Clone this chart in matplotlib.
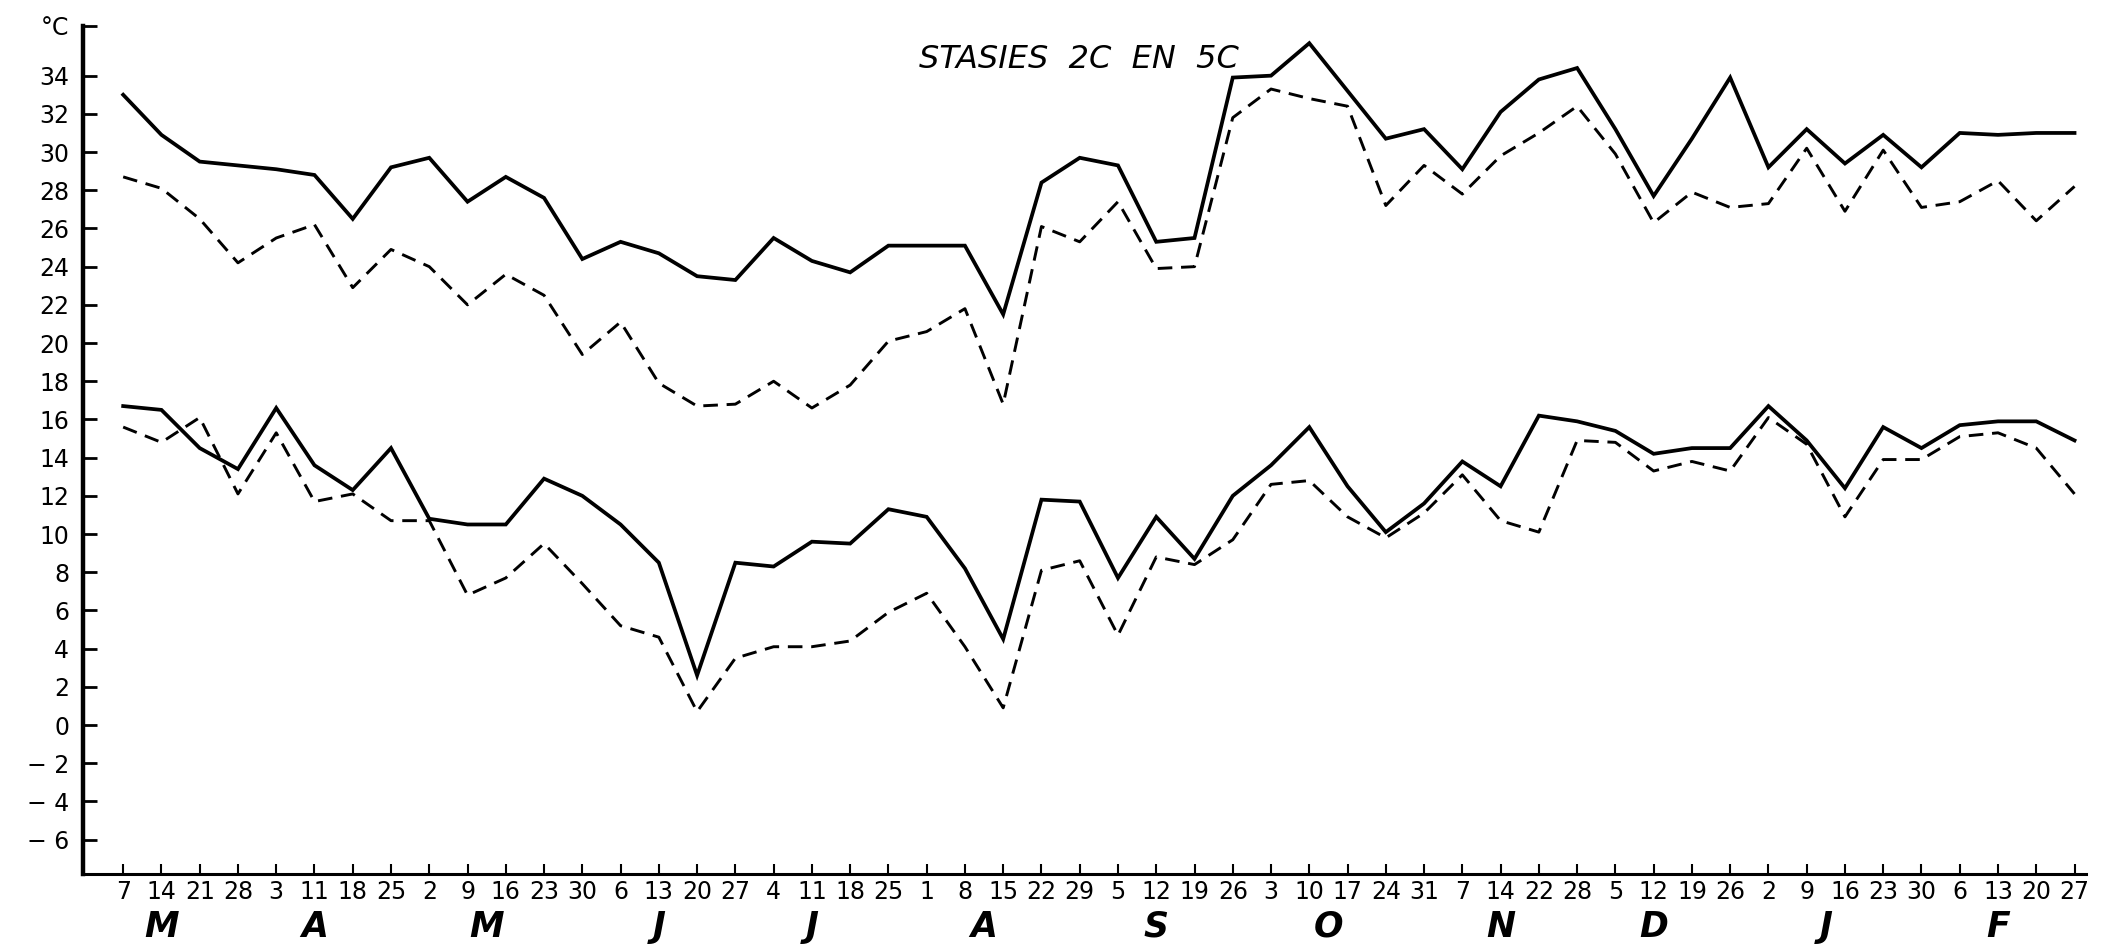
import matplotlib.pyplot as plt
import numpy as np

# weeklikse lesings, Maart tot Februarie
dates = ["7", "14", "21", "28",
         "3", "11", "18", "25",
         "2", "9", "16", "23", "30",
         "6", "13", "20", "27",
         "4", "11", "18", "25",
         "1", "8", "15", "22", "29",
         "5", "12", "19", "26",
         "3", "10", "17", "24", "31",
         "7", "14", "22", "28",
         "5", "12", "19", "26",
         "2", "9", "16", "23", "30",
         "6", "13", "20", "27"]
months = ["M", "A", "M", "J", "J", "A", "S", "O", "N", "D", "J", "F"]
weeks_per_month = [4, 4, 5, 4, 4, 5, 4, 5, 4, 4, 5, 4]

# maksimum temperature
max_2c = [33.0, 30.9, 29.5, 29.3, 29.1, 28.8, 26.5, 29.2, 29.7, 27.4, 28.7, 27.6, 24.4,
          25.3, 24.7, 23.5, 23.3, 25.5, 24.3, 23.7, 25.1, 25.1, 25.1, 21.5, 28.4, 29.7,
          29.3, 25.3, 25.5, 33.9, 34.0, 35.7, 33.2, 30.7, 31.2, 29.1, 32.1, 33.8, 34.4,
          31.2, 27.7, 30.7, 33.9, 29.2, 31.2, 29.4, 30.9, 29.2, 31.0, 30.9, 31.0, 31.0]
max_5c = [28.7, 28.1, 26.5, 24.2, 25.5, 26.2, 22.9, 24.9, 24.0, 22.0, 23.6, 22.5, 19.4,
          21.1, 17.9, 16.7, 16.8, 18.0, 16.6, 17.8, 20.1, 20.6, 21.8, 16.8, 26.1, 25.3,
          27.4, 23.9, 24.0, 31.8, 33.3, 32.8, 32.4, 27.2, 29.3, 27.8, 29.8, 31.0, 32.4,
          29.9, 26.3, 27.9, 27.1, 27.3, 30.2, 26.9, 30.1, 27.1, 27.4, 28.5, 26.4, 28.2]

# minimum temperature
min_2c = [16.7, 16.5, 14.5, 13.4, 16.6, 13.6, 12.3, 14.5, 10.8, 10.5, 10.5, 12.9, 12.0,
          10.5, 8.5, 2.6, 8.5, 8.3, 9.6, 9.5, 11.3, 10.9, 8.2, 4.5, 11.8, 11.7,
          7.7, 10.9, 8.7, 12.0, 13.6, 15.6, 12.5, 10.1, 11.6, 13.8, 12.5, 16.2, 15.9,
          15.4, 14.2, 14.5, 14.5, 16.7, 14.9, 12.4, 15.6, 14.5, 15.7, 15.9, 15.9, 14.9]
min_5c = [15.6, 14.8, 16.1, 12.1, 15.3, 11.7, 12.1, 10.7, 10.7, 6.8, 7.7, 9.5, 7.4,
          5.2, 4.6, 0.7, 3.5, 4.1, 4.1, 4.4, 5.9, 6.9, 4.1, 0.9, 8.1, 8.6,
          4.7, 8.8, 8.4, 9.7, 12.6, 12.8, 10.9, 9.8, 11.1, 13.1, 10.7, 10.1, 14.9,
          14.8, 13.3, 13.8, 13.3, 16.1, 14.7, 10.9, 13.9, 13.9, 15.1, 15.3, 14.5, 12.1]

y_ticks = list(range(-6, 36, 2)) + [36.6]
y_labels = [("\u2212 %d" % -v) if v < 0 else str(v) for v in range(-6, 36, 2)] + ["°C"]

x = np.arange(len(dates))

fig = plt.figure(figsize=(21.02, 9.52), dpi=100)
ax = fig.add_axes([83 / 2102, 1 - 874 / 952, (2086 - 83) / 2102, (874 - 26) / 952])

solid = dict(color="black", lw=2.7, solid_joinstyle="miter")
dashed = dict(color="black", lw=2.1, dashes=(5, 3))
ax.plot(x, max_2c, **solid)
ax.plot(x, max_5c, **dashed)
ax.plot(x, min_2c, **solid)
ax.plot(x, min_5c, **dashed)

ax.set_xlim(-1.05, 51.3)
ax.set_ylim(-7.8, 36.6)

for s in ["top", "right"]:
    ax.spines[s].set_visible(False)
ax.spines["left"].set_linewidth(3.2)
ax.spines["bottom"].set_linewidth(2.2)

ax.set_yticks(y_ticks)
ax.set_yticklabels(y_labels, fontsize=17)
ax.tick_params(axis="y", direction="in", length=10, width=2, pad=10)

ax.set_xticks(x)
ax.set_xticklabels(dates, fontsize=17)
ax.tick_params(axis="x", which="major", direction="in", length=7, width=1.5, pad=4)

# lang merke aan die einde van elke maand
month_end = np.cumsum(weeks_per_month) - 1
ax.set_xticks(month_end, minor=True)
ax.tick_params(axis="x", which="minor", direction="in", length=17, width=1.5)

start = np.concatenate([[0], month_end[:-1] + 1])
centres = (start + month_end) / 2 - 0.5
for cx, m in zip(centres, months):
    ax.text(cx, -0.062, m, transform=ax.get_xaxis_transform(), ha="center", va="center",
            fontsize=25, style="italic", fontweight="bold")

fig.text(1079 / 2102, 1 - 59 / 952, "STASIES  2C  EN  5C", ha="center", va="center",
         fontsize=23, style="italic")

fig.savefig("out.png", dpi=100)
